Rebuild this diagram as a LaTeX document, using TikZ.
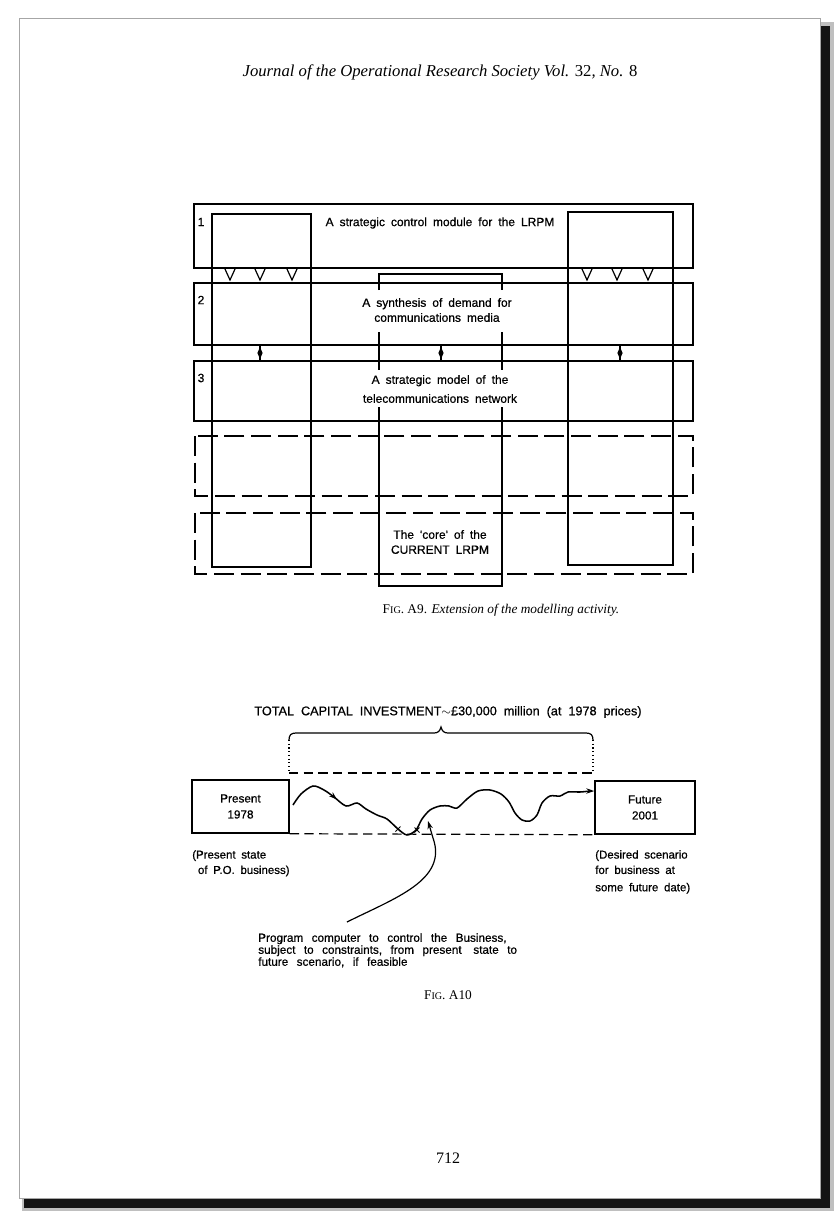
\documentclass[tikz,border=0pt]{standalone}
\usepackage{fontspec}
\setmainfont{Liberation Serif}
\newfontfamily\lett[FakeBold=0.6]{Liberation Sans}
\newcommand\setws[1]{\spaceskip=#1em\relax}
\usetikzlibrary{arrows.meta,decorations.markings}
\tikzset{
  rowbox/.style={draw, line width=1.15pt},
  colbox/.style={draw, line width=1.25pt},
  dashbox/.style={draw, line width=1.15pt, dash pattern=on 15pt off 5pt},
  vmark/.style={draw, line width=0.9pt},
  rowarrow/.style={draw, line width=0.9pt},
  lab/.style={font=\lett\fontsize{9}{11.25}\selectfont\setws{0.5}, align=center, inner sep=0pt},
  labl/.style={font=\lett\fontsize{8.6}{11.5}\selectfont\setws{0.5}, align=left, inner sep=0pt, anchor=north west},
  smalldash/.style={line width=0.9pt, dash pattern=on 7pt off 4pt},
  dotv/.style={line width=0.8pt, dotted},
  ser/.style={inner sep=0pt}
}
\begin{document}
\begin{tikzpicture}[x=0.75pt,y=-0.75pt]
\useasboundingbox (0,0) rectangle (838,1218);
\fill[white] (0,0) rectangle (838,1218);
% page shadow
\fill[black!25] (821,22) rectangle (834,1211);
\fill[black!25] (22,1199) rectangle (834,1211);
\fill[black!92] (820,26) rectangle (830,1208);
\fill[black!92] (24,1198) rectangle (830,1208);
% page
\draw[black!35, line width=0.6pt, fill=white] (19,18) rectangle (820,1198);

% header
\node[ser, font=\fontsize{12.5}{15}\selectfont\itshape] (hdr) at (440,72)
  {Journal of the Operational Research Society Vol. \textup{32}, No. \textup{8}};

% ---------------- Fig A9 ----------------
\draw[rowbox] (194,204) rectangle (693,268);
\draw[rowbox] (194,283) rectangle (693,345);
\draw[rowbox] (194,361) rectangle (693,421);
\draw[dashbox] (195,436) rectangle (693,496);
\draw[dashbox] (195,513) rectangle (693,574);
% tall columns
\draw[colbox] (212,214) rectangle (311,567);
\draw[colbox] (568,212) rectangle (673,565);
% middle column (core)
\draw[colbox] (379,290) -- (379,274) -- (502,274) -- (502,290);
\draw[colbox] (379,332) -- (379,370);
\draw[colbox] (502,332) -- (502,370);
\draw[colbox] (379,407) -- (379,586) -- (502,586) -- (502,407);

% V marks
\foreach \cx in {230,260,292,587,617,648}{
  \draw[vmark] (\cx-5,269) -- (\cx,280) -- (\cx+5,269);
}
% small arrows between rows 2 and 3
\foreach \ax/\nm in {260/a, 441/b, 620/c}{
  \coordinate (\nm top) at (\ax,345);
  \coordinate (\nm bot) at (\ax,361);
  \draw[rowarrow] (\nm top) -- (\nm bot);
  \fill (\ax,347) -- (\ax+2.6,353) -- (\ax,359) -- (\ax-2.6,353) -- cycle;
}

% row numbers
\node[lab] (n1) at (201,222) {1};
\node[lab] (n2) at (201,300) {2};
\node[lab] (n3) at (201,378) {3};
% row texts
\node[lab] (t1) at (440,223) {A strategic control module for the LRPM};
\node[lab] (t2) at (437,310) {A synthesis of demand for\\communications media};
\node[lab, font=\lett\fontsize{9}{14.25}\selectfont\setws{0.5}] (t3) at (440,389) {A strategic model of the\\telecommunications network};
\node[lab] (t4) at (440,542) {The \textquotesingle core\textquotesingle\ of the\\CURRENT LRPM};

% caption A9
\node[ser, font=\fontsize{10}{12}\selectfont] (cap9) at (501,610)
  {F{\fontsize{7.6}{9}\selectfont IG}. A9. \textit{Extension of the modelling activity.}};

% ---------------- Fig A10 ----------------
\node[ser, font=\lett\fontsize{9.5}{11}\selectfont\setws{0.55}] (tot) at (448,712)
  {TOTAL CAPITAL INVESTMENT$\sim$\pounds 30,000 million (at 1978 prices)};
% brace
\draw[line width=0.9pt] (289,740) .. controls (289,735) and (291,733) .. (296,733)
  -- (434,733) .. controls (438,733) and (440,731) .. (441,727)
  .. controls (442,731) and (444,733) .. (448,733)
  -- (586,733) .. controls (591,733) and (593,735) .. (593,740);
\draw[dotv] (289,740) -- (289,773);
\draw[dotv] (593,740) -- (593,773);
\draw[smalldash] (289,773) -- (593,773);

% boxes
\node[draw, line width=1.1pt, minimum width=72.75pt, minimum height=39.75pt, inner sep=0pt,
  font=\lett\fontsize{8.8}{12}\selectfont, align=center] (pres) at (240.5,806.5) {Present\\1978};
\node[draw, line width=1.1pt, minimum width=75pt, minimum height=39.75pt, inner sep=0pt,
  font=\lett\fontsize{8.8}{12}\selectfont, align=center] (fut) at (645,807.5) {Future\\2001};
\draw[smalldash] (pres.south east) -- (fut.south west);

% path curve
\draw[line width=1.15pt, -{Stealth[length=6pt,width=4pt]},
  postaction={decorate},
  decoration={markings, mark=at position 0.15 with {\arrow{Stealth[length=6pt,width=4pt]}}}]
  plot[smooth, tension=0.5] coordinates {
  (293,805) (301,794) (313,786) (324,790) (334,797) (346,806) (357,803)
  (366,809) (377,815) (387,819) (398,829) (407,835) (416,830) (422,819)
  (430,810) (440,806) (449,806) (457,808) (467,799) (478,791) (490,790) (501,794)
  (509,802) (515,813) (522,820) (530,821) (537,815) (542,803) (550,796) (560,796)
  (568,792) (580,792) (590,791)} -- (fut.west |- 0,791);
% crosses on the dashed line
\foreach \px/\py in {398/829, 417/830}{
  \draw[line width=0.7pt] (\px-2.5,\py-2.5) -- (\px+2.5,\py+2.5) (\px-2.5,\py+2.5) -- (\px+2.5,\py-2.5);
}

% leader
\coordinate (ldstart) at (347,922);
\coordinate (ldmid) at (433,838);
\coordinate (ldtip) at (428,821);
\draw[line width=0.9pt, -{Stealth[length=6pt,width=4pt]}]
  (ldstart) .. controls (395,898) and (448,880) .. (ldmid) -- (ldtip);

% labels
\node[labl] (lpres) at (192,850) {(Present state\\\ of P.O. business)};
\node[labl] (lfut) at (595,850) {(Desired scenario\\for business at\\[1.5pt]some future date)};
\node[labl, font=\lett\fontsize{8.8}{9}\selectfont\setws{0.72}] (lprog) at (258,933)
  {Program computer to control the Business,\\subject to constraints, from present\quad state to\\future scenario, if feasible};

\node[ser, font=\fontsize{10}{12}\selectfont] (cap10) at (448,995)
  {F{\fontsize{7.6}{9}\selectfont IG}. A10};

\node[ser, font=\fontsize{12}{14}\selectfont] (pg) at (448,1158) {712};
\end{tikzpicture}
\end{document}
